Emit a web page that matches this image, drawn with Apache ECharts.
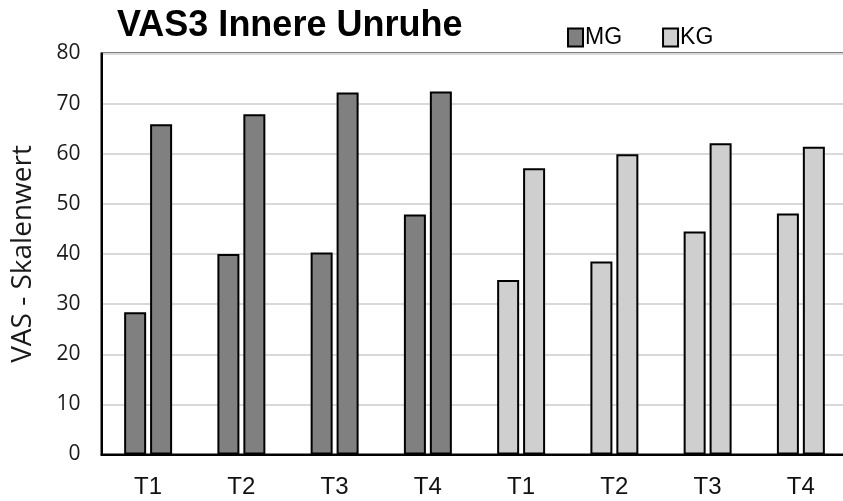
<!DOCTYPE html>
<html>
<head>
<meta charset="utf-8">
<script src="https://cdn.jsdelivr.net/npm/echarts@6/dist/echarts.min.js"></script>
<style>
  html, body { margin: 0; padding: 0; background: #fff; }
  #chart { width: 843px; height: 501px; }
</style>
</head>
<body>
<div id="chart"></div>
<script>
// Time points: first four belong to MG, last four to KG
const categories = ['T1', 'T2', 'T3', 'T4', 'T1', 'T2', 'T3', 'T4'];

// First and second measurement per time point
const mgFirst  = [28.4, 40.0, 40.3, 47.9, null, null, null, null];
const mgSecond = [65.9, 67.9, 72.2, 72.4, null, null, null, null];
const kgFirst  = [null, null, null, null, 34.8, 38.5, 44.5, 48.1];
const kgSecond = [null, null, null, null, 57.1, 59.9, 62.1, 61.4];

const yTicks = { min: 0, max: 80, interval: 10 };

const MG_COLOR = '#808080';
const KG_COLOR = '#d0cfd0';

function barSeries(name, data, stack, color) {
  return {
    name: name,
    type: 'bar',
    stack: stack,
    data: data,
    barWidth: 22,
    barGap: '18%',
    itemStyle: { color: color, borderColor: '#000', borderWidth: 2 }
  };
}

const chart = echarts.init(document.getElementById('chart'));
chart.setOption({
  animation: false,
  backgroundColor: '#fff',
  title: {
    text: 'VAS3 Innere Unruhe',
    left: 112,
    top: 3,
    textStyle: {
      fontFamily: 'Liberation Sans, Arial, sans-serif',
      fontWeight: 'bold',
      fontSize: 36,
      color: '#000'
    }
  },
  legend: {
    data: ['MG', 'KG'],
    left: 562,
    top: 21,
    itemWidth: 15,
    itemHeight: 18,
    itemGap: 40,
    icon: 'rect',
    textStyle: {
      fontFamily: 'Liberation Sans, Arial, sans-serif',
      fontSize: 23,
      color: '#000',
      padding: [0, 0, 0, -3]
    }
  },
  // plot frame runs slightly past the right edge of the canvas
  grid: {
    left: 101.5,
    width: 746,
    top: 53.5,
    bottom: 46.5,
    outerBoundsMode: 'none',
    show: true,
    borderColor: '#000',
    borderWidth: 2
  },
  xAxis: {
    type: 'category',
    data: categories,
    axisLine: { lineStyle: { color: '#000', width: 2 } },
    axisTick: { show: false },
    axisLabel: {
      fontFamily: 'Liberation Sans, Arial, sans-serif',
      fontSize: 24,
      color: '#111',
      margin: 21
    }
  },
  yAxis: {
    type: 'value',
    min: yTicks.min,
    max: yTicks.max,
    interval: yTicks.interval,
    name: 'VAS - Skalenwert',
    nameLocation: 'middle',
    nameGap: 64,
    nameTextStyle: {
      fontFamily: 'Open Sans, sans-serif',
      fontSize: 28,
      color: '#1a1a1a'
    },
    axisLine: { show: true, lineStyle: { color: '#000', width: 2 } },
    axisTick: { show: false },
    axisLabel: {
      fontFamily: 'Open Sans, sans-serif',
      fontSize: 21,
      color: '#1a1a1a',
      margin: 21
    },
    splitLine: { lineStyle: { color: '#d9d9d9', width: 2 } }
  },
  series: [
    barSeries('MG', mgFirst, 'first', MG_COLOR),
    barSeries('MG', mgSecond, 'second', MG_COLOR),
    barSeries('KG', kgFirst, 'first', KG_COLOR),
    barSeries('KG', kgSecond, 'second', KG_COLOR)
  ]
});
</script>
</body>
</html>
